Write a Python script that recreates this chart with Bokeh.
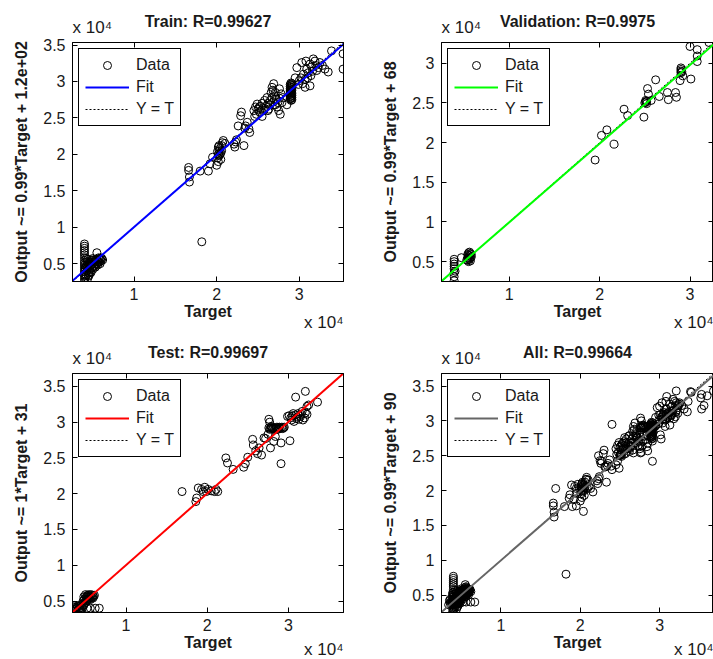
import numpy as np
from bokeh.plotting import figure
from bokeh.layouts import gridplot
from bokeh.models import Range1d, FixedTicker, LinearAxis, Legend, LegendItem, Title
from bokeh.embed import file_html
from bokeh.resources import INLINE

FONT = "Liberation Sans"
TXT = "#1a1a1a"

# ---------------- data (targets / outputs in units of 10^4) ----------------
titles = ["Train: R=0.99627", "Validation: R=0.9975", "Test: R=0.99697", "All: R=0.99664"]
ylabels = ["Output ~= 0.99*Target + 1.2e+02", "Output ~= 0.99*Target + 68",
           "Output ~= 1*Target + 31", "Output ~= 0.99*Target + 90"]
exponent_text = "x 10\u2074"
fit_slope = [0.99, 0.99, 1.0, 0.99]
fit_intercept = [120, 68, 31, 90]          # in target units
fit_colors = ["#0000ff", "#00ff00", "#ff0000", "#666666"]
axis_limits = [(0.255, 3.535), (0.25, 3.26), (0.34, 3.68), (0.25, 3.68)]
x_ticks = [1, 2, 3]
y_ticks = [[0.5, 1, 1.5, 2, 2.5, 3, 3.5], [0.5, 1, 1.5, 2, 2.5, 3],
           [0.5, 1, 1.5, 2, 2.5, 3, 3.5], [0.5, 1, 1.5, 2, 2.5, 3, 3.5]]
tick_text = {0.5: "0.5", 1: "1", 1.5: "1.5", 2: "2", 2.5: "2.5", 3: "3", 3.5: "3.5"}

train_points = [
    (0.40, 0.25), (0.40, 0.29), (0.40, 0.33), (0.40, 0.36), (0.40, 0.39), (0.40, 0.42),
    (0.40, 0.45), (0.40, 0.48), (0.40, 0.51), (0.40, 0.54), (0.40, 0.58), (0.40, 0.62),
    (0.40, 0.65), (0.40, 0.68), (0.40, 0.71), (0.40, 0.74), (0.40, 0.77),
    (0.42, 0.34), (0.43, 0.40), (0.44, 0.45), (0.45, 0.37), (0.45, 0.49), (0.46, 0.42),
    (0.47, 0.47), (0.48, 0.52), (0.49, 0.44), (0.50, 0.50), (0.51, 0.55), (0.52, 0.47),
    (0.53, 0.52), (0.54, 0.56), (0.55, 0.50), (0.56, 0.54), (0.57, 0.58), (0.58, 0.52),
    (0.59, 0.56), (0.60, 0.54), (0.61, 0.57), (0.55, 0.65), (0.44, 0.30), (0.48, 0.38),
    (0.41, 0.31), (0.42, 0.46), (0.43, 0.52), (0.44, 0.56), (0.45, 0.33), (0.46, 0.51),
    (0.47, 0.39), (0.48, 0.48), (0.49, 0.55), (0.50, 0.42), (0.51, 0.46), (0.52, 0.53),
    (0.53, 0.45), (0.54, 0.49), (0.55, 0.55), (0.56, 0.48), (0.57, 0.52), (0.58, 0.57),
    (0.59, 0.50), (0.60, 0.58), (0.62, 0.55), (0.46, 0.35), (0.43, 0.48), (0.41, 0.44),
    (0.42, 0.57), (0.44, 0.50), (0.50, 0.57),
    (1.66, 1.82), (1.66, 1.78), (1.67, 1.69), (1.67, 1.62), (1.80, 1.77), (1.90, 1.77),
    (1.92, 1.87), (1.95, 1.96), (2.00, 1.85), (2.01, 1.95), (2.02, 2.00), (2.03, 2.05),
    (2.03, 1.98), (2.04, 2.08), (2.05, 2.02), (2.02, 2.10), (2.06, 2.12), (2.05, 1.93),
    (2.08, 2.19), (2.10, 2.15), (2.01, 2.04), (2.04, 2.00), (2.06, 2.05), (2.03, 2.12),
    (2.07, 2.16), (2.02, 1.90),
    (2.22, 2.10), (2.23, 2.17), (2.24, 2.20), (2.21, 2.14),
    (2.33, 2.12), (2.26, 2.39), (2.29, 2.53), (2.30, 2.58), (2.35, 2.39), (2.37, 2.44),
    (2.39, 2.35), (2.40, 2.30), (2.34, 2.36),
    (2.45, 2.60), (2.47, 2.65), (2.49, 2.69), (2.50, 2.62), (2.52, 2.58), (2.53, 2.66),
    (2.55, 2.70), (2.57, 2.60), (2.58, 2.74), (2.60, 2.66), (2.61, 2.78), (2.62, 2.70),
    (2.63, 2.62), (2.65, 2.74), (2.66, 2.85), (2.67, 2.92), (2.69, 2.97), (2.68, 2.88),
    (2.70, 2.80), (2.71, 2.68), (2.73, 2.65), (2.72, 2.76), (2.75, 2.60), (2.77, 2.55),
    (2.79, 2.71), (2.78, 2.83), (2.76, 2.90), (2.55, 2.52), (2.48, 2.55),
    (2.58, 2.63), (2.62, 2.60), (2.64, 2.68), (2.67, 2.78), (2.69, 2.72), (2.71, 2.85),
    (2.74, 2.71), (2.76, 2.77), (2.80, 2.78), (2.51, 2.64), (2.46, 2.52),
    (2.90, 2.74), (2.90, 2.77), (2.90, 2.80), (2.90, 2.83), (2.90, 2.86), (2.90, 2.89),
    (2.90, 2.92), (2.90, 2.95), (2.90, 2.98), (2.91, 2.78), (2.91, 2.88), (2.89, 2.84),
    (2.89, 2.93), (2.85, 2.68), (2.89, 2.76), (2.89, 2.79), (2.89, 2.82), (2.89, 2.87),
    (2.89, 2.90), (2.89, 2.96), (2.91, 2.75), (2.91, 2.81), (2.91, 2.84), (2.91, 2.91),
    (2.91, 2.94), (2.91, 2.97),
    (3.00, 3.01), (3.07, 3.03), (2.97, 3.19), (3.03, 3.26), (3.13, 3.24), (3.17, 3.31),
    (3.25, 3.26), (3.21, 3.15), (3.31, 3.17), (3.35, 3.13), (3.07, 2.92), (3.13, 2.94),
    (3.39, 3.42), (3.53, 3.38), (3.53, 3.17), (3.05, 3.10), (3.10, 3.05), (3.15, 3.20),
    (3.20, 3.22), (3.02, 3.05), (2.95, 3.05), (3.09, 3.17), (3.04, 2.97), (3.11, 3.12),
    (3.16, 3.14), (3.19, 3.28), (3.23, 3.19), (3.28, 3.22), (3.08, 3.28), (2.99, 2.96),
    (3.14, 3.08),
    (1.82, 0.80),
]

val_points = [
    (0.39, 0.26), (0.39, 0.31), (0.39, 0.36), (0.39, 0.41), (0.39, 0.44), (0.39, 0.47),
    (0.39, 0.50), (0.39, 0.53), (0.40, 0.38), (0.47, 0.55), (0.53, 0.52), (0.54, 0.55),
    (0.55, 0.58), (0.56, 0.53), (0.57, 0.60), (0.55, 0.50), (0.58, 0.56), (0.56, 0.62),
    (0.54, 0.59), (0.57, 0.51), (0.55, 0.54), (0.56, 0.57), (0.57, 0.55), (0.55, 0.61),
    (0.58, 0.59), (0.54, 0.52),
    (1.95, 1.78), (2.02, 2.09), (2.08, 2.16), (2.16, 1.98), (2.27, 2.42), (2.31, 2.34),
    (2.49, 2.32), (2.50, 2.50), (2.51, 2.53), (2.52, 2.49), (2.53, 2.68), (2.54, 2.61),
    (2.57, 2.53), (2.62, 2.79), (2.66, 2.58), (2.75, 2.63), (2.76, 2.54), (2.84, 2.63),
    (2.85, 2.57), (2.89, 2.78), (2.90, 2.88), (2.90, 2.90), (2.90, 2.92), (2.90, 2.94),
    (2.91, 2.89), (2.92, 2.84), (3.01, 2.80), (3.00, 3.21), (3.08, 3.17), (3.08, 3.09),
    (3.08, 3.02), (3.21, 3.26), (2.51, 2.51), (2.52, 2.52),
]

test_points = [
    (0.34, 0.36), (0.36, 0.38), (0.37, 0.41), (0.38, 0.36), (0.39, 0.40), (0.40, 0.43),
    (0.41, 0.37), (0.42, 0.40), (0.43, 0.44), (0.44, 0.38), (0.45, 0.41), (0.46, 0.46),
    (0.47, 0.50), (0.48, 0.44), (0.49, 0.53), (0.50, 0.48), (0.51, 0.56), (0.52, 0.51),
    (0.53, 0.58), (0.54, 0.54), (0.55, 0.57), (0.56, 0.52), (0.57, 0.59), (0.58, 0.55),
    (0.59, 0.58), (0.60, 0.56), (0.48, 0.56), (0.50, 0.59), (0.56, 0.40), (0.62, 0.40),
    (0.67, 0.40), (0.35, 0.42), (0.52, 0.40), (0.36, 0.44), (0.38, 0.39), (0.41, 0.42),
    (0.43, 0.38), (0.46, 0.40), (0.47, 0.44), (0.49, 0.47), (0.51, 0.52), (0.53, 0.55),
    (0.55, 0.53), (0.57, 0.56), (0.59, 0.54), (0.61, 0.58), (0.52, 0.57), (0.54, 0.59),
    (1.69, 2.03), (1.86, 1.89), (1.87, 1.94), (1.89, 2.08), (1.93, 2.06), (1.97, 2.09),
    (1.99, 2.03), (1.95, 2.03), (2.01, 2.06), (2.05, 2.04), (2.09, 2.03), (2.13, 2.03),
    (2.11, 2.06), (2.23, 2.50), (2.25, 2.43), (2.32, 2.34), (2.45, 2.37), (2.47, 2.42),
    (2.50, 2.51), (2.56, 2.76), (2.57, 2.68), (2.60, 2.60), (2.62, 2.56), (2.67, 2.54),
    (2.64, 2.64), (2.70, 2.78), (2.72, 2.77), (2.75, 2.83), (2.76, 3.04), (2.77, 3.00),
    (2.76, 2.92), (2.78, 2.91), (2.80, 2.93), (2.82, 2.92), (2.84, 2.91), (2.86, 2.93),
    (2.88, 2.92), (2.90, 2.91), (2.92, 2.93), (2.94, 2.92), (2.79, 2.94), (2.83, 2.90),
    (2.87, 2.90), (2.77, 2.90), (2.81, 2.91), (2.85, 2.92), (2.89, 2.93), (2.93, 2.91),
    (2.95, 2.93), (2.79, 2.92),
    (2.82, 2.73), (2.78, 2.64), (2.84, 2.80), (2.91, 2.42), (2.91, 2.71), (3.02, 2.74),
    (2.99, 3.08), (3.03, 3.06), (3.07, 3.01), (3.10, 3.05), (3.13, 3.04), (3.05, 3.09),
    (3.09, 3.10), (3.15, 3.08), (3.17, 3.15), (3.20, 3.06), (3.23, 3.11), (3.09, 3.35),
    (3.21, 3.43), (3.23, 3.22), (3.25, 3.24), (3.36, 3.28), (3.01, 3.09), (3.12, 3.12),
    (3.18, 3.03), (3.04, 3.03), (3.11, 3.07), (3.16, 3.11), (3.21, 3.13), (3.06, 3.12),
]

all_extra_points = [
    (2.40, 2.95), (3.40, 3.41), (3.52, 3.33), (3.56, 3.22), (3.68, 3.43), (3.60, 3.36),
    (2.04, 1.70),
]

panel_points = [train_points, val_points, test_points,
                train_points + val_points + test_points + all_extra_points]

# ---------------- layout geometry (canvas px) ----------------
sizes = [(360, 330), (353, 330), (360, 329), (353, 329)]
borders = [(72, 17, 41, 49), (80, 0, 42, 49), (72, 17, 43, 47), (81, 0, 43, 46)]
bottom_exp_standoff = [-20, -20, -27, -27]


def make_panel(i):
    W, H = sizes[i]
    bl, br, bt, bb = borders[i]
    lo, hi = axis_limits[i]
    p = figure(width=W, height=H, output_backend="svg", toolbar_location=None,
               x_range=Range1d(lo, hi), y_range=Range1d(lo, hi),
               min_border_left=bl, min_border_right=br, min_border_top=bt, min_border_bottom=bb)
    p.grid.visible = False
    p.outline_line_color = "black"
    p.outline_line_alpha = 1
    p.background_fill_color = "white"
    p.border_fill_color = "white"

    for ax, ticks in ((p.xaxis[0], x_ticks), (p.yaxis[0], y_ticks[i])):
        ax.ticker = FixedTicker(ticks=ticks)
        ax.major_label_overrides = {t: tick_text[t] for t in ticks}
        ax.major_tick_in = 5
        ax.major_tick_out = 0
        ax.minor_tick_line_color = None
        ax.axis_line_color = "black"
        ax.major_tick_line_color = "black"
        ax.major_label_text_font = FONT
        ax.major_label_text_font_size = "16px"
        ax.major_label_text_color = TXT
        ax.axis_label_text_font = FONT
        ax.axis_label_text_font_size = "16px"
        ax.axis_label_text_font_style = "bold"
        ax.axis_label_text_color = TXT
    p.xaxis[0].axis_label = "Target"
    p.xaxis[0].major_label_standoff = 6
    p.xaxis[0].axis_label_standoff = 0
    p.yaxis[0].axis_label = ylabels[i]
    p.yaxis[0].major_label_standoff = 7
    p.yaxis[0].axis_label_standoff = 10

    for loc, ticks in (("above", x_ticks), ("right", y_ticks[i])):
        ax = LinearAxis(ticker=FixedTicker(ticks=ticks), major_tick_in=5, major_tick_out=0,
                        minor_tick_line_color=None, major_label_text_font_size="0px",
                        major_label_standoff=0, axis_line_color="black")
        ax.major_label_overrides = {t: "" for t in ticks}
        p.add_layout(ax, loc)

    # exponent "x 10^4" above (left) and below (right)
    p.add_layout(Title(text=exponent_text, align="left", text_font=FONT,
                       text_font_size="17px", text_font_style="normal", text_color=TXT,
                       standoff=12), "above")
    p.add_layout(Title(text=exponent_text, align="right", vertical_align="top",
                       text_font=FONT, text_font_size="17px", text_font_style="normal",
                       text_color=TXT, standoff=bottom_exp_standoff[i]), "below")

    p.title.text = titles[i]
    p.title.align = "center"
    p.title.text_font = FONT
    p.title.text_font_size = "16px"
    p.title.text_font_style = "bold"
    p.title.text_color = TXT
    p.title.standoff = -41

    pts = panel_points[i]
    tx = [a for a, b in pts]
    oy = [b for a, b in pts]
    lim = np.array([lo, hi])
    fit_y = fit_slope[i] * lim + fit_intercept[i] / 1e4

    r_yt = p.line(lim, lim, line_color="black", line_dash="2 2", line_width=1)
    r_data = p.scatter(tx, oy, marker="circle", size=8, fill_color=None,
                       line_color="black", line_width=1)
    r_fit = p.line(lim, fit_y, line_color=fit_colors[i], line_width=2)

    leg = Legend(items=[LegendItem(label="Data", renderers=[r_data]),
                        LegendItem(label="Fit", renderers=[r_fit]),
                        LegendItem(label="Y = T", renderers=[r_yt])],
                 location="top_left")
    leg.margin = 6
    leg.padding = 6
    leg.spacing = 2
    leg.glyph_width = 44
    leg.glyph_height = 20
    leg.label_height = 20
    leg.label_standoff = 7
    leg.label_text_font = FONT
    leg.label_text_font_size = "16px"
    leg.label_text_color = TXT
    leg.border_line_color = "black"
    leg.border_line_width = 1
    leg.border_line_alpha = 1
    leg.background_fill_alpha = 1
    p.add_layout(leg, "center")
    return p


plots = [make_panel(i) for i in range(4)]
grid = gridplot([[plots[0], plots[1]], [plots[2], plots[3]]], toolbar_location=None)

open("out.html", "w").write(file_html(grid, INLINE))
